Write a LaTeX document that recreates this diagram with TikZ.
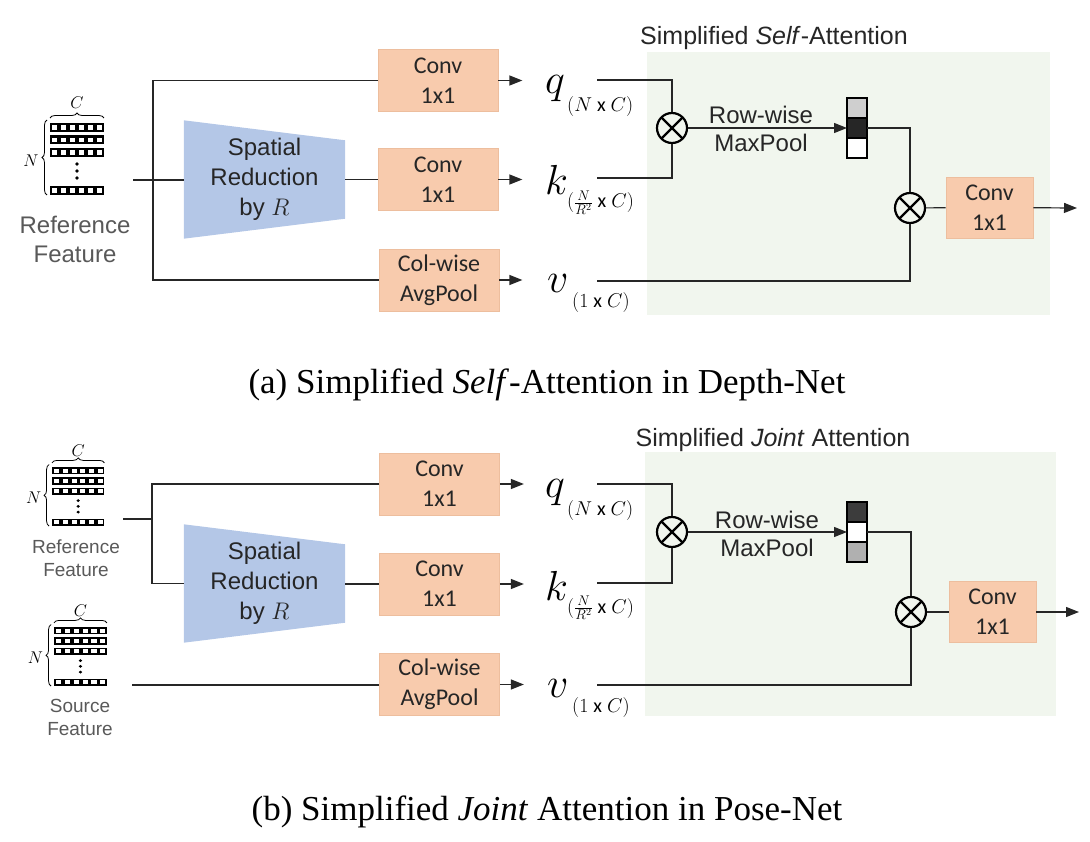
\RequirePackage{fix-cm}
\documentclass[tikz,border=0pt]{standalone}
\usepackage{fontspec}
\setmainfont{Liberation Serif}
\newfontfamily\arialfont{Liberation Sans}
\newfontfamily\calfont{Carlito}
\usepackage{amsmath}
\usetikzlibrary{positioning,arrows.meta,decorations.pathreplacing}

\definecolor{convfill}{HTML}{F8CBAD}
\definecolor{convline}{HTML}{EDBE9E}
\definecolor{srfill}{HTML}{B4C7E7}
\definecolor{attfill}{HTML}{F1F6EE}
\definecolor{poolgray}{HTML}{CFCFCF}
\definecolor{pooldark}{HTML}{262626}

\begin{document}
\begin{tikzpicture}[x=1pt,y=-1pt,
	conv/.style={draw=convline,line width=0.8pt,fill=convfill,minimum width=120pt,minimum height=62pt,inner sep=0pt,align=center,text=black!85,font=\calfont\fontsize{24}{30}\selectfont},
	outconv/.style={conv,minimum width=87pt,minimum height=61pt},
	srbox/.style={minimum width=161pt,minimum height=118pt,inner sep=0pt,align=center,text=black!85,font=\arialfont\fontsize{24}{30}\selectfont},
	featlbl/.style={align=center,text=black!65,font=\arialfont\fontsize{24}{29}\selectfont},
	featlblsm/.style={align=center,text=black!65,font=\arialfont\fontsize{19}{23}\selectfont},
	rowlbl/.style={align=center,text=black!85,font=\arialfont\fontsize{24}{28}\selectfont},
	ttl/.style={text=black!85,font=\arialfont\fontsize{25}{28}\selectfont},
	captxt/.style={font=\fontsize{35}{40}\selectfont},
	qkv/.style={inner sep=0pt,anchor=base west,font=\fontsize{42}{42}\selectfont},
	sub/.style={inner sep=0pt,anchor=base west,font=\fontsize{20}{20}\selectfont},
	mul/.style={circle,draw,line width=2.2pt,minimum size=30pt,inner sep=0pt,
		path picture={\draw[line width=2.2pt] (path picture bounding box.north west) -- (path picture bounding box.south east) (path picture bounding box.north east) -- (path picture bounding box.south west);}},
	pool/.style={draw,line width=2.2pt,minimum width=20pt,minimum height=20pt,inner sep=0pt,outer sep=0pt},
	attbox/.style={fill=attfill,inner sep=0pt,anchor=north west},
	ln/.style={line width=1.2pt,draw=black!85},
	arr/.style={ln,-{Triangle[length=13pt,width=10pt]}},
	featgrid/.pic={
		\foreach \r in {0,12.5,25,63}{
			\fill[black] (0,\r) rectangle (54,\r+9);
			\foreach \c in {0,...,5}
				\fill[white] (\c*9+2.2,\r+2.2) rectangle (\c*9+7.4,\r+6.8);
		}
		\foreach \d in {41,48,55} \fill (27,\d) circle (1.8pt);
		\draw[line width=0.8pt,decorate,decoration={brace,amplitude=5pt}] (0,-5) -- (54,-5);
		\draw[line width=0.8pt,decorate,decoration={brace,amplitude=5pt}] (-3,72) -- (-3,-3);
		\node[font=\fontsize{17}{17}\selectfont] at (27,-20) {$C$};
		\node[font=\fontsize{17}{17}\selectfont] at (-19,38) {$N$};
	}]
	\useasboundingbox (0,0) rectangle (1090,842);
	%%%%%% (a) self-attention
	%attention region
	\node[attbox,minimum width=403pt,minimum height=263pt] (attA) at (647,52) {};
	\node[ttl] (ttlA) at (774,38) {Simplified \textit{Self}-Attention};
	%feature
	\pic at (50,123) {featgrid};
	\node[featlbl] (refA) at (75,239) {Reference\\Feature};
	\coordinate (inA) at (133,180);
	\coordinate (jA) at (153,180);
	%branches
	\node[conv] (convqA) at (438,80.5) {Conv\\1x1};
	\node[srbox] (srA) at (264.5,179.5) {};
	\node[conv] (convkA) at (438,179.5) {Conv\\1x1};
	\node[conv] (avgA) at (439,280) {Col-wise\\AvgPool};
	%q k v
	\node[qkv] (qA) at (545,94) {$q$};
	\node[sub] (qsA) at (567,112) {$(N\ \text{\calfont x}\ C)$};
	\node[qkv] (kA) at (545,195) {$k$};
	\node[sub] (ksA) at (567,208) {$(\frac{N}{R^2}\ \text{\calfont x}\ C)$};
	\node[qkv] (vA) at (547,293) {$v$};
	\node[sub] (vsA) at (572,308) {$(1\ \text{\calfont x}\ C)$};
	\coordinate (qoA) at (597,80);
	\coordinate (koA) at (597,178);
	\coordinate (voA) at (597,281);
	%attention
	\node[mul] (mul1A) at (672,128) {};
	\node[rowlbl] (rowA) at (761,129) {Row-wise\\MaxPool};
	\node[pool,fill=pooldark] (pool2A) at (857,128) {};
	\node[pool,fill=poolgray,above=0pt of pool2A] (pool1A) {};
	\node[pool,fill=white,below=0pt of pool2A] (pool3A) {};
	\node[mul] (mul2A) at (910,208) {};
	\node[outconv] (convoA) at (989.5,207.5) {Conv\\1x1};
	\coordinate (outA) at (1077,208);
	%links
	\fill[srfill] (srA.north west) -- ([yshift=-20pt]srA.north east) -- ([yshift=20pt]srA.south east) -- (srA.south west) -- cycle;
	\node[srbox] at (srA) {Spatial\\Reduction\\by $R$};
	\draw[ln] (inA) -- (inA -| srA.west);
	\draw[ln] (srA.east |- convkA.west) -- (convkA.west);
	\draw[ln] (convqA.west) -| (jA) |- (avgA.west);
	\draw[arr] (convqA.east) -- ++(24,0);
	\draw[arr] (convkA.east) -- ++(24,0);
	\draw[arr] (avgA.east) -- ++(23,0);
	\draw[ln] (qoA) -| (mul1A);
	\draw[ln] (koA) -| (mul1A);
	\draw[arr] (mul1A) -- (pool2A);
	\draw[ln] (pool2A) -| (mul2A);
	\draw[ln] (voA) -| (mul2A);
	\draw[ln] (mul2A) -- (convoA);
	\draw[arr] (convoA) -- (outA);
	\node[captxt] (capA) at (547,385) {(a) Simplified \textit{Self}-Attention in Depth-Net};
	%%%%%% (b) joint attention
	%attention region
	\node[attbox,minimum width=411pt,minimum height=264pt] (attB) at (645,452) {};
	\node[ttl] (ttlB) at (773,440) {Simplified \textit{Joint} Attention};
	%features
	\pic[yscale=0.82,xscale=0.97] at (52,467) {featgrid};
	\node[featlblsm] (refB) at (76,558) {Reference\\Feature};
	\pic[yscale=0.82,xscale=0.98] at (54,627) {featgrid};
	\node[featlblsm] (srcB) at (80,717) {Source\\Feature};
	\coordinate (inB) at (123,519);
	\coordinate (jB) at (152,519);
	\coordinate (srcoB) at (132,685);
	%branches
	\node[conv] (convqB) at (439.5,484) {Conv\\1x1};
	\node[srbox] (srB) at (264.5,583.5) {};
	\node[conv] (convkB) at (439.5,584) {Conv\\1x1};
	\node[conv] (avgB) at (439.5,684.5) {Col-wise\\AvgPool};
	%q k v
	\node[qkv] (qB) at (545,497) {$q$};
	\node[sub] (qsB) at (567,515) {$(N\ \text{\calfont x}\ C)$};
	\node[qkv] (kB) at (545,600) {$k$};
	\node[sub] (ksB) at (567,613) {$(\frac{N}{R^2}\ \text{\calfont x}\ C)$};
	\node[qkv] (vB) at (547,697) {$v$};
	\node[sub] (vsB) at (572,712) {$(1\ \text{\calfont x}\ C)$};
	\coordinate (qoB) at (597,484);
	\coordinate (koB) at (597,583);
	\coordinate (voB) at (597,685);
	%attention
	\node[mul] (mul1B) at (672,532) {};
	\node[rowlbl] (rowB) at (767,534) {Row-wise\\MaxPool};
	\node[pool,fill=white] (pool2B) at (857,532) {};
	\node[pool,fill=pooldark!90,above=0pt of pool2B] (pool1B) {};
	\node[pool,fill=poolgray!85!black,below=0pt of pool2B] (pool3B) {};
	\node[mul] (mul2B) at (911,612) {};
	\node[outconv] (convoB) at (992.5,612) {Conv\\1x1};
	\coordinate (outB) at (1079,612);
	%links
	\fill[srfill] (srB.north west) -- ([yshift=-20pt]srB.north east) -- ([yshift=20pt]srB.south east) -- (srB.south west) -- cycle;
	\node[srbox] at (srB) {Spatial\\Reduction\\by $R$};
	\draw[ln] (inB) -- (jB);
	\draw[ln] (convqB.west) -| (jB) |- (srB.west);
	\draw[ln] (srB.east |- convkB.west) -- (convkB.west);
	\draw[ln] (srcoB) -- (srcoB -| avgB.west);
	\draw[arr] (convqB.east) -- ++(24,0);
	\draw[arr] (convkB.east) -- ++(24,0);
	\draw[arr] (avgB.east) -- ++(24,0);
	\draw[ln] (qoB) -| (mul1B);
	\draw[ln] (koB) -| (mul1B);
	\draw[arr] (mul1B) -- (pool2B);
	\draw[ln] (pool2B) -| (mul2B);
	\draw[ln] (voB) -| (mul2B);
	\draw[ln] (mul2B) -- (convoB);
	\draw[arr] (convoB) -- (outB);
	\node[captxt] (capB) at (547,812) {(b) Simplified \textit{Joint} Attention in Pose-Net};
\end{tikzpicture}
\end{document}
